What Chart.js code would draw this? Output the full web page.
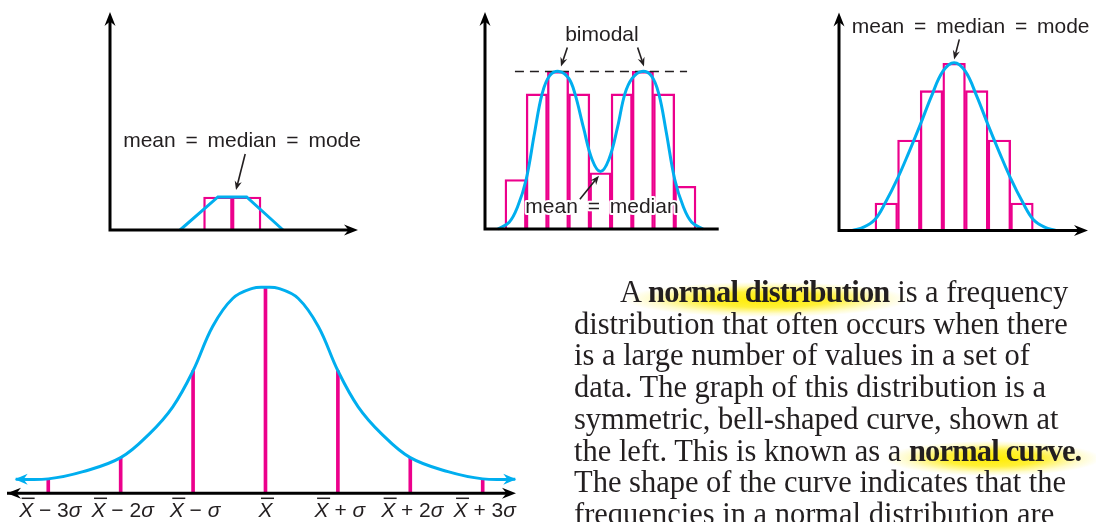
<!DOCTYPE html>
<html>
<head>
<meta charset="utf-8">
<title>Normal distribution</title>
<script src="https://cdn.jsdelivr.net/npm/chart.js@4.4.1/dist/chart.umd.min.js"></script>
<style>
  html { background: #fff; }
  body { margin: 0; padding: 0; }
  #page { position: relative; width: 1096px; height: 522px; overflow: hidden; }
  #page canvas { position: absolute; left: 0; top: 0; }
  #prose {
    position: absolute; left: 574px; top: 277px;
    font-family: "Liberation Serif", "Times New Roman", serif;
    font-size: 30.5px; line-height: 31.7px; color: #231f20; white-space: nowrap;
  }
  #prose .indent { padding-left: 46px; }
  #prose b { letter-spacing: -0.8px; }
  .glow { position: relative; }
  .glow::before {
    content: ""; position: absolute; left: -24px; right: -20px; top: 3px; bottom: -8px; z-index: -1;
    background: radial-gradient(ellipse closest-side at 50% 55%, rgba(255,236,0,1) 0%, rgba(255,238,20,0.85) 45%, rgba(255,245,110,0.35) 80%, rgba(255,255,255,0) 100%);
  }
</style>
</head>
<body>
<div id="page">
  <canvas id="uniChart" width="1096" height="522"></canvas>
  <canvas id="biChart" width="1096" height="522"></canvas>
  <canvas id="symChart" width="1096" height="522"></canvas>
  <canvas id="normChart" width="1096" height="522"></canvas>
  <div id="prose">
    <span class="indent">A <b class="glow">normal distribution</b> is a frequency</span><br>
    distribution that often occurs when there<br>
    is a large number of values in a set of<br>
    data. The graph of this distribution is a<br>
    symmetric, bell-shaped curve, shown at<br>
    the left. This is known as a <b class="glow">normal curve.</b><br>
    The shape of the curve indicates that the<br>
    frequencies in a normal distribution are
  </div>
</div>
<script>
const BLUE = '#00aeef';
const PINK = '#ec008c';
const INK = '#231f20';
const SANS = '"Liberation Sans", Arial, Helvetica, sans-serif';

// top left: two equal classes, flat-topped polygon
const uniClass = [0.5, 1.5];
const uniFreq = [1, 1];
const uniLineX = [-0.82, 0.5, 1.5, 2.77];
const uniLineY = [0, 1, 1, 0];

// top middle: bimodal histogram
const biClass = [0.5, 1.5, 2.5, 3.5, 4.5, 5.5, 6.5, 7.5, 8.5];
const biFreq = [2.2, 6, 7, 6, 2.5, 6, 7, 6, 1.9];
const biCurveX = [-0.33, 0.2, 0.6, 1.0, 1.4, 1.75, 2.1, 2.55, 3.0, 3.3, 3.7, 4.1, 4.5, 4.9, 5.3, 5.65, 6.0, 6.45, 6.9, 7.25, 7.6, 8.0, 8.4, 8.8, 9.33];
const biCurveY = [0, 0.3, 1.0, 2.2, 4.3, 6.0, 6.8, 7.0, 6.7, 6.0, 4.5, 3.1, 2.55, 3.1, 4.5, 6.0, 6.7, 7.0, 6.8, 6.0, 4.3, 2.2, 1.0, 0.3, 0];
const biModeX = [0.47, 8.58];
const biModeY = [7, 7];

// top right: symmetric histogram
const symClass = [0.5, 1.5, 2.5, 3.5, 4.5, 5.5, 6.5];
const symFreq = [1, 3.3, 5.1, 6.1, 5.1, 3.3, 1];
const symCurveX = [-1.0, -0.5, 0, 0.45, 1.0, 1.5, 2.0, 2.5, 3.0, 3.5, 4.0, 4.5, 5.0, 5.5, 6.0, 6.55, 7.0, 7.5, 8.0];
const symCurveY = [0, 0.12, 0.4, 1.0, 1.9, 2.85, 3.85, 4.9, 5.8, 6.12, 5.8, 4.9, 3.85, 2.85, 1.9, 1.0, 0.4, 0.12, 0];

// bottom: normal curve, x in standard deviations, height as % of peak
const sigmaSteps = [-3, -2, -1, 0, 1, 2, 3];
const sigmaHeights = [7, 17.3, 59.5, 100, 59.5, 17.3, 7];
const sigmaLabels = ['X\u0304 \u2212 3\u03c3', 'X\u0304 \u2212 2\u03c3', 'X\u0304 \u2212 \u03c3', 'X\u0304', 'X\u0304 + \u03c3', 'X\u0304 + 2\u03c3', 'X\u0304 + 3\u03c3'];
const normCurveX = [-3.45, -3, -2.52, -2, -1.6, -1.28, -1, -0.73, -0.45, -0.18, 0, 0.18, 0.45, 0.73, 1, 1.28, 1.6, 2, 2.52, 3, 3.45];
const normCurveY = [6.8, 7.0, 10.5, 17.3, 29, 42, 59.5, 81, 94.7, 99.5, 100, 99.5, 94.7, 81, 59.5, 42, 29, 17.3, 10.5, 7.0, 6.8];

// where each little graph sits on the page: [value, pixel, value, pixel]
const W = 1096, H = 522;
const frames = {
  uni:  { x: [-3.26, 110, 5.38, 358],   y: [0, 230, 6.6, 12],      yAxis: true,  endArrow: true },
  bi:   { x: [-0.94, 485, 10.0, 717.2], y: [0, 229, 9.64, 12],     yAxis: true,  endArrow: false },
  sym:  { x: [-1.59, 839, 9.42, 1088],  y: [0, 230.5, 7.95, 12.5], yAxis: true,  endArrow: true },
  norm: { x: [-3.57, 7, 3.46, 516],     y: [0, 493.3, 100, 287.3], yAxis: false, endArrow: true, startArrow: true }
};

const notes = [
  { key: 'uni', text: 'mean = median = mode', at: [1.34, 2.52], arrows: [[1.45, 2.3, 1.13, 1.21]] },
  { key: 'bi', text: 'bimodal', at: [4.57, 8.36], arrows: [[2.94, 8.06, 2.64, 7.22], [6.25, 8.06, 6.55, 7.22]] },
  { key: 'bi', text: 'mean = median', at: [4.57, 0.7], arrows: [[3.53, 1.32, 4.43, 2.37]] },
  { key: 'sym', text: 'mean = median = mode', at: [4.23, 7.19], arrows: [[3.73, 6.97, 3.5, 6.24]] }
];

function spanX([a, pa, b, pb]) {
  const k = (b - a) / (pb - pa);
  return { min: a - pa * k, max: a + (W - pa) * k };
}
function spanY([a, pa, b, pb]) {
  const k = (b - a) / (pa - pb);
  return { min: a - (H - pa) * k, max: a + pa * k };
}

const pts = (xs, ys) => xs.map((x, i) => ({ x: x, y: ys[i] }));

function curve(data, extra) {
  return Object.assign({
    type: 'line', data: data, borderColor: BLUE, borderWidth: 3, pointRadius: 0,
    fill: false, tension: 0.38, order: 0
  }, extra || {});
}
function hist(data) {
  return {
    type: 'bar', data: data, backgroundColor: 'rgba(0,0,0,0)', borderColor: PINK, borderWidth: 1.7,
    barThickness: 'flex', barPercentage: 1, categoryPercentage: 1, order: 2
  };
}

function arrowHead(ctx, x, y, ang, len, half, color) {
  ctx.save();
  ctx.translate(x, y);
  ctx.rotate(ang);
  ctx.beginPath();
  ctx.moveTo(0, 0);
  ctx.lineTo(-len, -half);
  ctx.lineTo(-len * 0.68, 0);
  ctx.lineTo(-len, half);
  ctx.closePath();
  ctx.fillStyle = color;
  ctx.fill();
  ctx.restore();
}

function drawAxes(chart, f) {
  const ctx = chart.ctx, xs = chart.scales.x, ys = chart.scales.y;
  const x0 = xs.getPixelForValue(f.x[0]);
  const x1 = xs.getPixelForValue(f.x[2]);
  const y0 = ys.getPixelForValue(0);
  const yTop = ys.getPixelForValue(f.y[2]);
  ctx.save();
  ctx.strokeStyle = '#000';
  ctx.lineWidth = 3;
  ctx.lineCap = 'square';
  ctx.beginPath();
  if (f.yAxis) {
    ctx.moveTo(x0, yTop + 9);
    ctx.lineTo(x0, y0);
  } else {
    ctx.moveTo(x0 + 9, y0);
    ctx.lineTo(x0, y0);
  }
  ctx.lineTo(f.endArrow ? x1 - 9 : x1, y0);
  ctx.stroke();
  ctx.restore();
  if (f.yAxis) arrowHead(ctx, x0, yTop, -Math.PI / 2, 14, 5.5, '#000');
  if (f.endArrow) arrowHead(ctx, x1, y0, 0, 14, 5.5, '#000');
  if (f.startArrow) arrowHead(ctx, x0, y0, Math.PI, 14, 5.5, '#000');
}

function drawNotes(chart, key) {
  const ctx = chart.ctx, xs = chart.scales.x, ys = chart.scales.y;
  ctx.save();
  ctx.font = '21px ' + SANS;
  if ('wordSpacing' in ctx) ctx.wordSpacing = '4px';
  ctx.textAlign = 'center';
  ctx.textBaseline = 'alphabetic';
  notes.filter((n) => n.key === key).forEach((n) => {
    const px = xs.getPixelForValue(n.at[0]), py = ys.getPixelForValue(n.at[1]);
    ctx.lineWidth = 4;
    ctx.lineJoin = 'round';
    ctx.strokeStyle = '#fff';
    ctx.strokeText(n.text, px, py);
    ctx.fillStyle = INK;
    ctx.fillText(n.text, px, py);
    n.arrows.forEach(([ax, ay, bx, by]) => {
      const x1 = xs.getPixelForValue(ax), y1 = ys.getPixelForValue(ay);
      const x2 = xs.getPixelForValue(bx), y2 = ys.getPixelForValue(by);
      const ang = Math.atan2(y2 - y1, x2 - x1);
      ctx.beginPath();
      ctx.moveTo(x1, y1);
      ctx.lineTo(x2 - Math.cos(ang) * 6, y2 - Math.sin(ang) * 6);
      ctx.lineWidth = 1.6;
      ctx.strokeStyle = INK;
      ctx.stroke();
      arrowHead(ctx, x2, y2, ang, 9, 3.6, INK);
    });
  });
  ctx.restore();
}

function drawSigmaLabels(chart) {
  const ctx = chart.ctx, xs = chart.scales.x;
  const base = chart.scales.y.getPixelForValue(0) + 24;
  ctx.save();
  if ('wordSpacing' in ctx) ctx.wordSpacing = '0px';
  ctx.textAlign = 'left';
  ctx.textBaseline = 'alphabetic';
  ctx.fillStyle = INK;
  sigmaLabels.forEach((lab, i) => {
    const parts = Array.from(lab.replace('\u0304', '')).map((ch) => ({ ch: ch, it: ch === 'X' || ch === '\u03c3' }));
    let total = 0;
    parts.forEach((p) => {
      ctx.font = (p.it ? 'italic ' : '') + '21px ' + SANS;
      p.w = ctx.measureText(p.ch).width;
      total += p.w;
    });
    let x = xs.getPixelForValue(sigmaSteps[i]) + (parts.length > 1 ? 2 : 0) - total / 2;
    parts.forEach((p) => {
      ctx.font = (p.it ? 'italic ' : '') + '21px ' + SANS;
      ctx.fillText(p.ch, x, base);
      if (p.ch === 'X') {
        ctx.beginPath();
        ctx.moveTo(x + 2.5, base - 19);
        ctx.lineTo(x + p.w + 1.5, base - 19);
        ctx.lineWidth = 1.5;
        ctx.strokeStyle = INK;
        ctx.stroke();
      }
      x += p.w;
    });
  });
  ctx.restore();
}

function panel(canvasId, key, datasets, extraDraw) {
  const f = frames[key];
  return new Chart(document.getElementById(canvasId), {
    type: 'bar',
    data: { datasets: datasets },
    options: {
      responsive: false,
      animation: false,
      events: [],
      layout: { padding: 0 },
      scales: {
        x: { type: 'linear', display: false, offset: false, bounds: 'data', ...spanX(f.x) },
        y: { type: 'linear', display: false, bounds: 'data', ...spanY(f.y) }
      },
      plugins: { legend: { display: false }, tooltip: { enabled: false } }
    },
    plugins: [{
      id: 'decor_' + key,
      afterDatasetsDraw(chart) {
        drawAxes(chart, f);
        drawNotes(chart, key);
        if (extraDraw) extraDraw(chart);
      }
    }]
  });
}

panel('uniChart', 'uni', [
  curve(pts(uniLineX, uniLineY), { tension: 0 }),
  hist(pts(uniClass, uniFreq))
]);

panel('biChart', 'bi', [
  curve(pts(biCurveX, biCurveY)),
  {
    type: 'line', data: pts(biModeX, biModeY), borderColor: INK, borderWidth: 1.5,
    borderDash: [9, 6], pointRadius: 0, fill: false, order: 1
  },
  hist(pts(biClass, biFreq))
]);

panel('symChart', 'sym', [
  curve(pts(symCurveX, symCurveY)),
  hist(pts(symClass, symFreq))
]);

panel('normChart', 'norm', [
  curve(pts(normCurveX, normCurveY)),
  { type: 'bar', data: pts(sigmaSteps, sigmaHeights), backgroundColor: PINK, barThickness: 3, order: 1 }
], (chart) => {
  // arrow tips on both ends of the curve
  const p = chart.getDatasetMeta(0).data;
  const first = p[0], last = p[p.length - 1];
  arrowHead(chart.ctx, first.x - 1, first.y, Math.PI, 13, 5.5, BLUE);
  arrowHead(chart.ctx, last.x + 1, last.y, 0, 13, 5.5, BLUE);
  drawSigmaLabels(chart);
});
</script>
</body>
</html>
